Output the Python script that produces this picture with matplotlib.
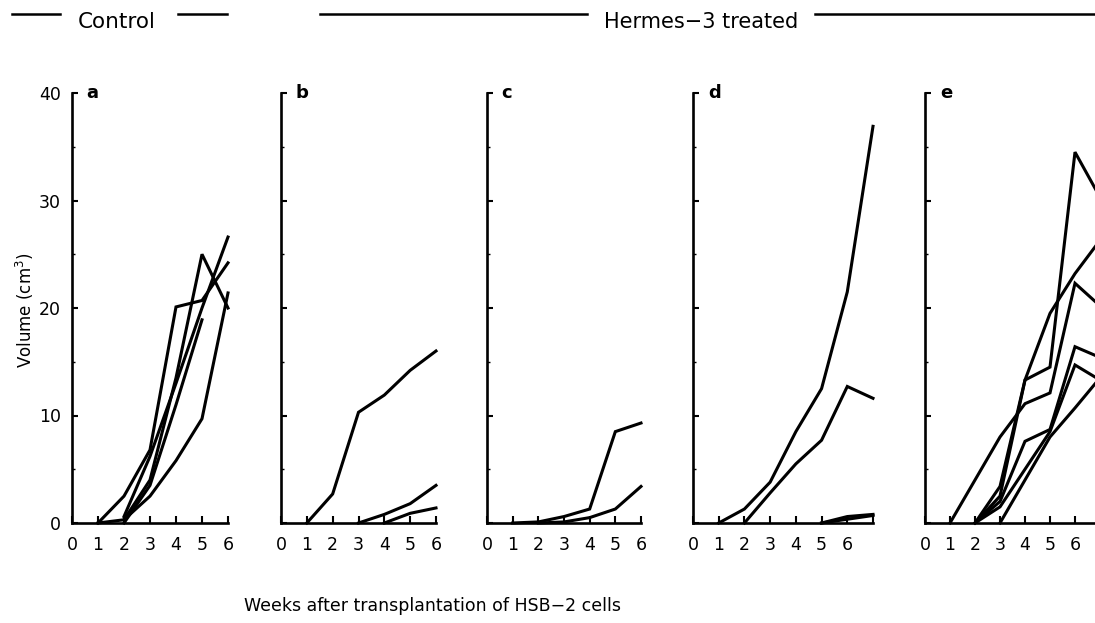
import matplotlib
matplotlib.use("Agg")
import matplotlib.pyplot as plt
from matplotlib.lines import Line2D
from matplotlib.ticker import MultipleLocator

plt.rcParams['font.family'] = ['DejaVu Sans']

# ---------------- data ----------------
panel_letters = ["a", "b", "c", "d", "e"]
x_tick_labels = ["0", "1", "2", "3", "4", "5", "6"]
y_tick_values = [0, 10, 20, 30, 40]

# panel a (control)
a1_w = [1, 2, 3, 4, 5, 6];  a1_v = [0, 2.5, 6.8, 20.1, 20.7, 24.2]
a2_w = [2, 3, 4, 5, 6];     a2_v = [0.3, 4.0, 13.5, 25.0, 20.0]
a3_w = [2, 3, 4, 5, 6];     a3_v = [0.6, 6.2, 13.0, 20.0, 26.6]
a4_w = [2, 3, 4, 5];        a4_v = [0, 3.5, 11.0, 18.9]
a5_w = [1, 2, 3, 4, 5, 6];  a5_v = [0, 0.3, 2.5, 5.8, 9.7, 21.4]

# panel b
b1_w = [1, 2, 3, 4, 5, 6];  b1_v = [0, 2.7, 10.3, 11.9, 14.2, 16.0]
b2_w = [3, 4, 5, 6];        b2_v = [0, 0.8, 1.8, 3.5]
b3_w = [4, 5, 6];           b3_v = [0, 0.9, 1.4]

# panel c
c1_w = [1, 2, 3, 4, 5, 6];  c1_v = [0, 0.1, 0.6, 1.3, 8.5, 9.3]
c2_w = [2, 3, 4, 5, 6];     c2_v = [0, 0.1, 0.5, 1.3, 3.4]

# panel d
d1_w = [1, 2, 3, 4, 5, 6, 7]; d1_v = [0, 1.3, 3.8, 8.5, 12.5, 21.5, 36.9]
d2_w = [2, 3, 4, 5, 6, 7];    d2_v = [0, 2.8, 5.5, 7.7, 12.7, 11.6]
d3_w = [5, 6, 7];             d3_v = [0, 0.6, 0.8]
d4_w = [5, 6, 7];             d4_v = [0, 0.35, 0.7]

# panel e
e1_w = [2, 3, 4, 5, 6, 7];    e1_v = [0, 3.4, 13.3, 14.5, 34.5, 30.3]
e2_w = [1, 2, 3, 4, 5, 6, 7]; e2_v = [0, 4.0, 8.0, 11.1, 12.1, 22.3, 20.2]
e3_w = [2, 3, 4, 5, 6, 7];    e3_v = [0, 2.5, 13.3, 19.5, 23.2, 26.3]
e4_w = [2, 3, 4, 5, 6, 7];    e4_v = [0, 2.0, 7.6, 8.7, 16.4, 15.4]
e5_w = [2, 3, 4, 5, 6, 7];    e5_v = [0, 1.5, 5.0, 8.5, 14.7, 13.3]
e6_w = [3, 4, 5, 6, 7];       e6_v = [0, 4.0, 8.0, 10.7, 13.5]

panels = [
    [(a1_w, a1_v), (a2_w, a2_v), (a3_w, a3_v), (a4_w, a4_v), (a5_w, a5_v)],
    [(b1_w, b1_v), (b2_w, b2_v), (b3_w, b3_v)],
    [(c1_w, c1_v), (c2_w, c2_v)],
    [(d1_w, d1_v), (d2_w, d2_v), (d3_w, d3_v), (d4_w, d4_v)],
    [(e1_w, e1_v), (e2_w, e2_v), (e3_w, e3_v), (e4_w, e4_v), (e5_w, e5_v), (e6_w, e6_v)],
]
x_max = [6, 6, 6, 7, 7]

# ---------------- layout (pixels) ----------------
W, H = 1095, 623
fig = plt.figure(figsize=(W / 100, H / 100), dpi=100)
left_px = [72, 281, 487, 693, 925]
right_px = [228, 436, 641, 873, 1100]
y0_px, y40_px = 523, 93

for i, (lines, letter) in enumerate(zip(panels, panel_letters)):
    l = left_px[i] / W
    w = (right_px[i] - left_px[i]) / W
    b = (H - y0_px) / H
    h = (y0_px - y40_px) / H
    ax = fig.add_axes([l, b, w, h])
    for wk, vol in lines:
        ax.plot(wk, vol, color="black", lw=2.2, solid_joinstyle="miter", clip_on=False)
    ax.set_xlim(0, x_max[i])
    ax.set_ylim(0, 40)
    for s in ["top", "right"]:
        ax.spines[s].set_visible(False)
    for s in ["left", "bottom"]:
        ax.spines[s].set_linewidth(1.9)
    ax.set_xticks(range(0, x_max[i] + 1))
    labels = x_tick_labels + [""] * (x_max[i] + 1 - len(x_tick_labels))
    ax.set_xticklabels(labels, fontsize=12.5)
    ax.set_yticks(y_tick_values)
    ax.yaxis.set_minor_locator(MultipleLocator(5))
    ax.tick_params(axis="x", direction="in", length=5, width=1.5, pad=9)
    ax.tick_params(axis="y", which="major", direction="in", length=4, width=1.5, pad=8)
    ax.tick_params(axis="y", which="minor", direction="in", length=2, width=1.0)
    if i == 0:
        ax.set_yticklabels([str(v) for v in y_tick_values], fontsize=12.5)
    else:
        ax.set_yticklabels([])
    ax.text(0.55 if x_max[i] == 6 else 0.6, 40, letter, fontsize=13,
            fontweight="bold", ha="left", va="center")

# y label
fig.text(25 / W, 1 - 310 / H, "Volume (cm$^3$)", rotation=90, fontsize=12,
         ha="center", va="center")
# x label
fig.text(432 / W, 1 - 606 / H, "Weeks after transplantation of HSB\u22122 cells",
         fontsize=12.5, ha="center", va="center")

# header
def hline(x0, x1, y):
    fig.add_artist(Line2D([x0 / W, x1 / W], [1 - y / H, 1 - y / H],
                          color="black", lw=1.8, transform=fig.transFigure))

hline(12, 60, 14)
fig.text(78 / W, 1 - 22 / H, "Control", fontsize=15.5, ha="left", va="center")
hline(178, 227, 14)
hline(320, 587, 14)
fig.text(604 / W, 1 - 22 / H, "Hermes\u22123 treated", fontsize=15, ha="left", va="center")
hline(815, 1095, 14)

fig.savefig("out.png", dpi=100)
